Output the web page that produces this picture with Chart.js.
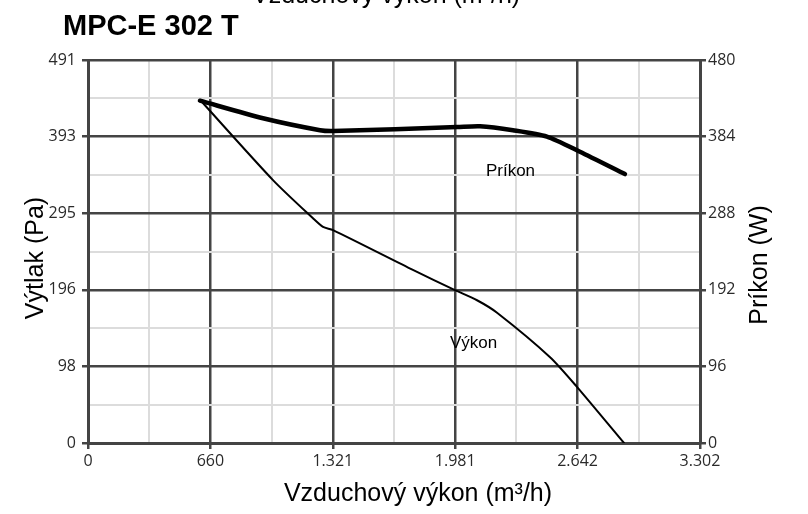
<!DOCTYPE html>
<html>
<head>
<meta charset="utf-8">
<script src="https://cdn.jsdelivr.net/npm/chart.js@4"></script>
<style>
  html, body { margin: 0; padding: 0; background: #fff; }
  #wrap { width: 808px; height: 514px; position: relative; }
</style>
</head>
<body>
<div id="wrap"><canvas id="fanChart"></canvas></div>
<script>
// Výkon curve (pressure, left axis)
const vykonFlow = [604, 998, 1214, 1268, 1322, 1753, 1980, 2099, 2207, 2493, 2638, 2892];
const vykonPressure = [440, 337, 288, 277, 273, 222, 196, 183, 167, 110, 72, 0];

// Príkon curve (power input, right axis)
const prikonFlow = [604, 944, 1252, 1322, 1991, 2115, 2293, 2476, 2654, 2897];
const prikonPower = [429, 407, 392, 391, 396, 397, 392, 384, 365, 337];

const xTickLabels = ['0', '660', '1.321', '1.981', '2.642', '3.302'];
const pressureTickLabels = ['0', '98', '196', '295', '393', '491'];
const powerTickLabels = ['0', '96', '192', '288', '384', '480'];
const xMax = 3302;
const pressureMax = 491;
const powerMax = 480;

const chartTitle = 'MPC-E 302 T';
const xTitle = 'Vzduchový výkon (m³/h)';
const yTitle = 'Výtlak (Pa)';
const y1Title = 'Príkon (W)';

const curveLabels = [
  { text: 'Príkon', axis: 'y1', x: 2147, y: 340 },
  { text: 'Výkon', axis: 'y', x: 1953, y: 128 }
];

const DARK = '#444';
const LIGHT = '#dcdcdc';
const tickFont = { family: '"Open Sans", sans-serif', size: 16 };

// 10 divisions per axis, every second one labelled
function tenTicks(max) {
  return Array.from({ length: 11 }, (_, i) => ({ value: max * i / 10 }));
}

function gridStyle(onArea) {
  return {
    drawOnChartArea: onArea,
    color: ctx => ctx.index % 2 === 0 ? DARK : LIGHT,
    lineWidth: ctx => ctx.index % 2 === 0 ? 2.5 : 2,
    tickColor: ctx => ctx.index % 2 === 0 ? DARK : 'rgba(0,0,0,0)',
    tickWidth: 2.5,
    tickLength: 6
  };
}

const textPlugin = {
  id: 'texts',
  afterDraw(chart) {
    const c = chart.ctx;
    c.save();
    c.fillStyle = '#000';
    c.textAlign = 'left';
    c.textBaseline = 'alphabetic';
    c.font = 'bold 29px "Liberation Sans", Arial, sans-serif';
    c.fillText(chartTitle, 63, 35);

    c.font = '25px "Liberation Sans", Arial, sans-serif';
    c.fillText(xTitle, 252, 3);

    c.textAlign = 'center';
    c.textBaseline = 'middle';
    c.fillText(xTitle, 418, 494);

    c.save();
    c.translate(36, 258);
    c.rotate(-Math.PI / 2);
    c.fillText(yTitle, 0, 0);
    c.restore();

    c.save();
    c.translate(760, 265);
    c.rotate(-Math.PI / 2);
    c.fillText(y1Title, 0, 0);
    c.restore();

    c.font = '17px "Liberation Sans", Arial, sans-serif';
    c.textAlign = 'left';
    curveLabels.forEach(l => {
      const px = chart.scales.x.getPixelForValue(l.x);
      const py = chart.scales[l.axis].getPixelForValue(l.y);
      c.fillText(l.text, px, py);
    });
    c.restore();
  }
};

new Chart(document.getElementById('fanChart'), {
  type: 'line',
  data: {
    datasets: [
      {
        label: 'Výkon',
        data: vykonFlow.map((x, i) => ({ x: x, y: vykonPressure[i] })),
        yAxisID: 'y',
        borderColor: '#000',
        borderWidth: 2,
        pointRadius: 0,
        tension: 0.25,
        borderCapStyle: 'round',
        borderJoinStyle: 'round',
        fill: false
      },
      {
        label: 'Príkon',
        data: prikonFlow.map((x, i) => ({ x: x, y: prikonPower[i] })),
        yAxisID: 'y1',
        borderColor: '#000',
        borderWidth: 4.5,
        pointRadius: 0,
        tension: 0.25,
        borderCapStyle: 'round',
        borderJoinStyle: 'round',
        fill: false
      }
    ]
  },
  options: {
    responsive: true,
    maintainAspectRatio: false,
    animation: false,
    layout: { padding: { top: 60 } },
    plugins: {
      legend: { display: false },
      tooltip: { enabled: false }
    },
    scales: {
      x: {
        type: 'linear',
        position: 'bottom',
        min: 0,
        max: xMax,
        afterBuildTicks: s => { s.ticks = tenTicks(xMax); },
        afterFit: s => { s.height = 71; },
        grid: gridStyle(true),
        border: { color: DARK, width: 3 },
        ticks: {
          autoSkip: false,
          maxRotation: 0,
          padding: 3,
          color: '#2a2a2a',
          font: tickFont,
          callback: (v, i) => i % 2 === 0 ? xTickLabels[i / 2] : ''
        }
      },
      y: {
        position: 'left',
        min: 0,
        max: pressureMax,
        afterBuildTicks: s => { s.ticks = tenTicks(pressureMax); },
        afterFit: s => { s.width = 88; },
        grid: gridStyle(true),
        border: { color: DARK, width: 3 },
        ticks: {
          autoSkip: false,
          padding: 6,
          color: '#2a2a2a',
          font: tickFont,
          callback: (v, i) => i % 2 === 0 ? pressureTickLabels[i / 2] : ''
        }
      },
      y1: {
        position: 'right',
        min: 0,
        max: powerMax,
        afterBuildTicks: s => { s.ticks = tenTicks(powerMax); },
        afterFit: s => { s.width = 108; },
        grid: gridStyle(false),
        border: { color: DARK, width: 3 },
        ticks: {
          autoSkip: false,
          padding: 2,
          color: '#2a2a2a',
          font: tickFont,
          callback: (v, i) => i % 2 === 0 ? powerTickLabels[i / 2] : ''
        }
      }
    }
  },
  plugins: [textPlugin]
});
</script>
</body>
</html>
